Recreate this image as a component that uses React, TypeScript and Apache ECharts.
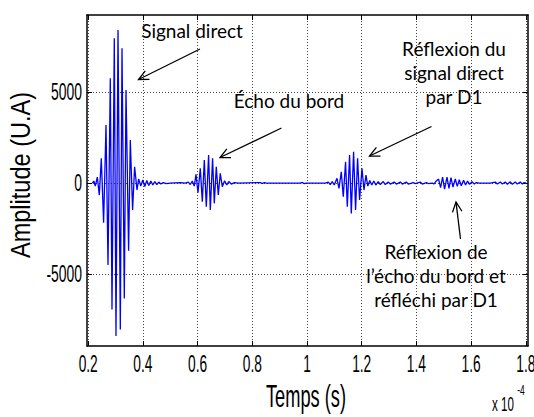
import React, { useEffect, useRef } from "react";
import * as echarts from "echarts";

// Time in units of 1e-4 s, amplitude in arbitrary units (U.A)
const directTime = [0.215, 0.2205, 0.226, 0.2333, 0.2406, 0.2479, 0.2563, 0.2651, 0.2724, 0.2808, 0.287, 0.2954, 0.3016, 0.309, 0.3174, 0.3236, 0.332, 0.3382, 0.3477, 0.3539, 0.3623, 0.3697, 0.3784, 0.3843];
const directAmp = [0, 110, -165, 330, -660, 1357, -2182, 3187, -4506, 5753, -6940, 7951, -8407, 8407, -8039, 7402, -6336, 5110, -3720, 2363, -1484, 896, -385, 220];

const directTailTime = [0.3923, 0.3996, 0.4069, 0.4142, 0.4216, 0.4289, 0.4362, 0.4435, 0.4508, 0.4581, 0.4654, 0.4746, 0.4855, 0.5001, 0.5367, 0.555];
const directTailAmp = [-165, 165, -192, 137, -137, 110, -110, 82, -82, 55, -55, 27, -27, 0, 20, 0];

const edgeEchoTime = [0.566, 0.5733, 0.5806, 0.5879, 0.5941, 0.6014, 0.6098, 0.6172, 0.6245, 0.6318, 0.6402, 0.6464, 0.6548, 0.661, 0.6683, 0.6756, 0.6829, 0.6903, 0.6987, 0.7067, 0.714, 0.7232, 0.7341, 0.7488];
const edgeEchoAmp = [55, -82, 110, -165, 478, -533, 808, -1028, 1264, -1302, 1539, -1484, 1357, -1115, 896, -659, 533, -203, 126, -110, 82, -55, 27, 0];

const quietTime = [0.8292, 0.8365, 0.8438, 0.8511, 0.9754, 0.9827, 0.99, 0.9973, 1.0668];
const quietAmp = [27, -27, 27, 0, 0, 33, -33, 0, 0];

const reflDirectTime = [1.0778, 1.0851, 1.0924, 1.0997, 1.1096, 1.1169, 1.1253, 1.1326, 1.141, 1.1473, 1.1557, 1.1619, 1.1703, 1.1776, 1.1849, 1.1922, 1.201, 1.2083, 1.2156, 1.2222];
const reflDirectAmp = [55, -82, 82, -110, 258, -291, 621, -753, 1170, -1302, 1539, -1665, 1720, -1484, 1357, -934, 808, -385, 440, -165];

const reflTailTime = [1.2295, 1.2368, 1.2442, 1.2515, 1.2606, 1.2679, 1.2789, 1.2862, 1.2972, 1.3045, 1.3191, 1.3264, 1.341, 1.3484, 1.363, 1.3703, 1.3886, 1.3959, 1.4142, 1.4215, 1.4361, 1.4434, 1.4581];
const reflTailAmp = [137, -110, 110, -110, 82, -82, 82, -82, 55, -55, 55, -55, 55, -55, 55, -55, 27, -27, 55, -55, 27, -27, 0];

const reflEchoTime = [1.4635, 1.4708, 1.4811, 1.4884, 1.4957, 1.503, 1.5118, 1.5191, 1.5264, 1.5337, 1.5421, 1.5494, 1.5567, 1.564, 1.5725, 1.5798, 1.5871, 1.5944, 1.6032, 1.6116, 1.6189, 1.6299];
const reflEchoAmp = [-55, 82, 220, -256, 330, -330, 330, -293, 293, -220, 220, -183, 183, -147, 147, -110, 110, -73, 73, -55, 27, 0];

const endTime = [1.6701, 1.6884, 1.6957, 1.7067, 1.714, 1.725, 1.7323, 1.7432, 1.7506, 1.7615, 1.7688, 1.7798, 1.7871, 1.7944, 1.8017];
const endAmp = [0, 55, -55, 55, -55, 55, -66, 66, -66, 55, -55, 55, -55, 27, 0];

const xTicks = [0.2, 0.4, 0.6, 0.8, 1, 1.2, 1.4, 1.6, 1.8];
const yTicks = [-5000, 0, 5000];
const xRange = [0.1956, 1.808];
const yRange = [-8950, 9230];

const segments: [number[], number[]][] = [
  [directTime, directAmp],
  [directTailTime, directTailAmp],
  [edgeEchoTime, edgeEchoAmp],
  [quietTime, quietAmp],
  [reflDirectTime, reflDirectAmp],
  [reflTailTime, reflTailAmp],
  [reflEchoTime, reflEchoAmp],
  [endTime, endAmp],
];

const SANS = '"Liberation Sans", Arial, sans-serif';
const NOTE = 'Lato, "Open Sans", sans-serif';

function arrow(x1: number, y1: number, x2: number, y2: number) {
  const ang = Math.atan2(y1 - y2, x1 - x2);
  const L = 11;
  const a = 0.45;
  const p1 = [x2 + L * Math.cos(ang + a), y2 + L * Math.sin(ang + a)];
  const p2 = [x2 + L * Math.cos(ang - a), y2 + L * Math.sin(ang - a)];
  return [
    { type: "line", shape: { x1, y1, x2, y2 }, style: { stroke: "#000", lineWidth: 1.3 } },
    { type: "polyline", shape: { points: [p1, [x2, y2], p2] }, style: { stroke: "#000", lineWidth: 1.3, fill: null } },
  ];
}

export default function App() {
  const ref = useRef<HTMLDivElement>(null);
  useEffect(() => {
    if (!ref.current) return;
    const chart = echarts.init(ref.current, null, { renderer: "svg" });
    const data: number[][] = [];
    segments.forEach(([t, a]) => t.forEach((v, i) => data.push([v, a[i]])));

    const axisLine = { show: true, onZero: false, lineStyle: { color: "#000", width: 1.5 } };
    const gridLine = { show: true, lineStyle: { color: "#444", width: 1, type: [1, 2] } };
    const tick = (vals: number[]) => ({ show: true, inside: true, length: 5, customValues: vals, lineStyle: { color: "#000" } });

    chart.setOption({
      animation: false,
      grid: { left: 87, top: 15, right: 6, bottom: 71, outerBoundsMode: "none", containLabel: false },
      xAxis: [
        {
          type: "value", position: "bottom", min: xRange[0], max: xRange[1],
          axisLine, axisTick: tick(xTicks),
          axisLabel: { show: false, customValues: xTicks },
          splitLine: gridLine,
        },
        {
          type: "value", position: "top", min: xRange[0], max: xRange[1],
          axisLine, axisTick: tick(xTicks),
          axisLabel: { show: false },
          splitLine: { show: false },
        },
      ],
      yAxis: [
        {
          type: "value", position: "left", min: yRange[0], max: yRange[1],
          axisLine, axisTick: tick(yTicks),
          axisLabel: { show: false, customValues: yTicks },
          splitLine: gridLine,
        },
        {
          type: "value", position: "right", min: yRange[0], max: yRange[1],
          axisLine, axisTick: tick(yTicks),
          axisLabel: { show: false },
          splitLine: { show: false },
        },
      ],
      series: [
        {
          type: "line",
          data,
          xAxisIndex: 0,
          yAxisIndex: 0,
          showSymbol: false,
          symbol: "none",
          lineStyle: { color: "#0000ff", width: 1.3 },
          z: 3,
        },
      ],
    });

    // Tick labels placed through the axes' own scales, drawn condensed like the original
    const labelStyle = { font: `16px ${SANS}`, fill: "#000", verticalAlign: "middle" };
    const xLabels = xTicks.map((v) => ({
      type: "text",
      x: chart.convertToPixel({ xAxisIndex: 0 }, v) as number,
      y: 364.5,
      scaleX: 0.86,
      scaleY: 1.46,
      style: { ...labelStyle, text: String(v), align: "center" },
    }));
    const yLabels = yTicks.map((v) => ({
      type: "text",
      x: 82,
      y: chart.convertToPixel({ yAxisIndex: 0 }, v) as number,
      scaleX: 0.87,
      scaleY: 1.46,
      style: { ...labelStyle, text: String(v), align: "right" },
    }));

    chart.setOption({
      graphic: [
        ...xLabels,
        ...yLabels,
        { type: "text", x: 306, y: 396, scaleX: 0.83, scaleY: 1.45, style: { text: "Temps (s)", font: `22px ${SANS}`, fill: "#000", align: "center", verticalAlign: "middle" } },
        { type: "text", x: 20, y: 175, rotation: Math.PI / 2, scaleX: 1.07, scaleY: 1.27, style: { text: "Amplitude (U.A)", font: `22px ${SANS}`, fill: "#000", align: "center", verticalAlign: "middle" } },
        { type: "text", x: 503, y: 404, scaleX: 0.83, scaleY: 1.5, style: { text: "x 10", font: `14px ${SANS}`, fill: "#000", align: "center", verticalAlign: "middle" } },
        { type: "text", x: 521, y: 390, scaleX: 0.85, scaleY: 1.4, style: { text: "-4", font: `10px ${SANS}`, fill: "#000", align: "center", verticalAlign: "middle" } },
        { type: "text", x: 192, y: 30, style: { text: "Signal direct", font: `19px ${NOTE}`, fill: "#000", align: "center", verticalAlign: "middle" } },
        { type: "text", x: 289, y: 100, style: { text: "Écho du bord", font: `19px ${NOTE}`, fill: "#000", align: "center", verticalAlign: "middle" } },
        { type: "text", x: 454, y: 72, style: { text: "Réflexion du\nsignal direct\npar D1", font: `19px ${NOTE}`, lineHeight: 24, fill: "#000", align: "center", verticalAlign: "middle" } },
        { type: "text", x: 436, y: 275, style: { text: "Réflexion de\nl’écho du bord et\nréfléchi par D1", font: `19px ${NOTE}`, lineHeight: 24, fill: "#000", align: "center", verticalAlign: "middle" } },
        ...arrow(200, 49, 138.5, 79.5),
        ...arrow(281.5, 128, 220, 157.5),
        ...arrow(431.5, 126.5, 369.5, 156),
        ...arrow(460.5, 239, 456, 202),
      ],
    });
    return () => chart.dispose();
  }, []);
  return <div ref={ref} style={{ width: 534, height: 417, position: "absolute", left: 0, top: 0 }} />;
}
